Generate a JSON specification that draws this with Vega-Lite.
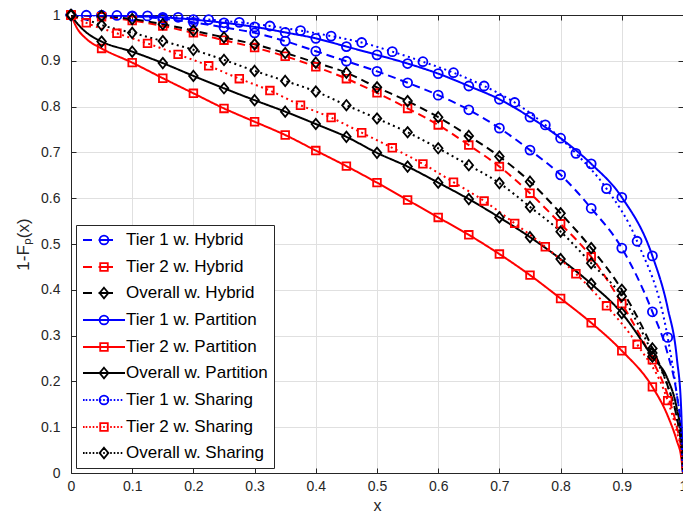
{
  "$schema": "https://vega.github.io/schema/vega-lite/v6.json",
  "width": 612,
  "height": 458,
  "autosize": "none",
  "padding": {"left": 71, "top": 15, "right": 0, "bottom": 39},
  "background": "white",
  "config": {
    "font": "Liberation Sans",
    "view": {"stroke": null},
    "legend": {
      "orient": "bottom-left",
      "offset": 5,
      "fillColor": "white",
      "strokeColor": "#262626",
      "padding": 6,
      "cornerRadius": 0,
      "symbolSize": 256,
      "symbolStrokeWidth": 1.8,
      "labelFontSize": 17,
      "labelColor": "#000000",
      "labelOffset": 26,
      "rowPadding": 9,
      "labelLimit": 300
    }
  },
  "data": {
    "values": [
      {"series": "Tier 1 w. Hybrid", "x": 0, "y": 1},
      {"series": "Tier 1 w. Hybrid", "x": 0.05, "y": 0.999},
      {"series": "Tier 1 w. Hybrid", "x": 0.1, "y": 0.997},
      {"series": "Tier 1 w. Hybrid", "x": 0.15, "y": 0.992},
      {"series": "Tier 1 w. Hybrid", "x": 0.2, "y": 0.984},
      {"series": "Tier 1 w. Hybrid", "x": 0.25, "y": 0.973},
      {"series": "Tier 1 w. Hybrid", "x": 0.3, "y": 0.961},
      {"series": "Tier 1 w. Hybrid", "x": 0.35, "y": 0.943},
      {"series": "Tier 1 w. Hybrid", "x": 0.4, "y": 0.921},
      {"series": "Tier 1 w. Hybrid", "x": 0.45, "y": 0.899},
      {"series": "Tier 1 w. Hybrid", "x": 0.5, "y": 0.877},
      {"series": "Tier 1 w. Hybrid", "x": 0.55, "y": 0.852},
      {"series": "Tier 1 w. Hybrid", "x": 0.6, "y": 0.825},
      {"series": "Tier 1 w. Hybrid", "x": 0.65, "y": 0.793},
      {"series": "Tier 1 w. Hybrid", "x": 0.7, "y": 0.753},
      {"series": "Tier 1 w. Hybrid", "x": 0.75, "y": 0.705},
      {"series": "Tier 1 w. Hybrid", "x": 0.8, "y": 0.651},
      {"series": "Tier 1 w. Hybrid", "x": 0.85, "y": 0.578},
      {"series": "Tier 1 w. Hybrid", "x": 0.9, "y": 0.491},
      {"series": "Tier 1 w. Hybrid", "x": 0.95, "y": 0.352},
      {"series": "Tier 1 w. Hybrid", "x": 0.975, "y": 0.26},
      {"series": "Tier 1 w. Hybrid", "x": 0.99, "y": 0.17},
      {"series": "Tier 1 w. Hybrid", "x": 0.997, "y": 0.09},
      {"series": "Tier 1 w. Hybrid", "x": 1, "y": 0},

      {"series": "Tier 2 w. Hybrid", "x": 0, "y": 1},
      {"series": "Tier 2 w. Hybrid", "x": 0.05, "y": 0.996},
      {"series": "Tier 2 w. Hybrid", "x": 0.1, "y": 0.988},
      {"series": "Tier 2 w. Hybrid", "x": 0.15, "y": 0.976},
      {"series": "Tier 2 w. Hybrid", "x": 0.2, "y": 0.961},
      {"series": "Tier 2 w. Hybrid", "x": 0.25, "y": 0.945},
      {"series": "Tier 2 w. Hybrid", "x": 0.3, "y": 0.929},
      {"series": "Tier 2 w. Hybrid", "x": 0.35, "y": 0.91},
      {"series": "Tier 2 w. Hybrid", "x": 0.4, "y": 0.887},
      {"series": "Tier 2 w. Hybrid", "x": 0.45, "y": 0.861},
      {"series": "Tier 2 w. Hybrid", "x": 0.5, "y": 0.83},
      {"series": "Tier 2 w. Hybrid", "x": 0.55, "y": 0.796},
      {"series": "Tier 2 w. Hybrid", "x": 0.6, "y": 0.76},
      {"series": "Tier 2 w. Hybrid", "x": 0.65, "y": 0.716},
      {"series": "Tier 2 w. Hybrid", "x": 0.7, "y": 0.669},
      {"series": "Tier 2 w. Hybrid", "x": 0.75, "y": 0.611},
      {"series": "Tier 2 w. Hybrid", "x": 0.8, "y": 0.544},
      {"series": "Tier 2 w. Hybrid", "x": 0.85, "y": 0.472},
      {"series": "Tier 2 w. Hybrid", "x": 0.9, "y": 0.37},
      {"series": "Tier 2 w. Hybrid", "x": 0.95, "y": 0.247},
      {"series": "Tier 2 w. Hybrid", "x": 0.975, "y": 0.17},
      {"series": "Tier 2 w. Hybrid", "x": 0.99, "y": 0.1},
      {"series": "Tier 2 w. Hybrid", "x": 0.997, "y": 0.05},
      {"series": "Tier 2 w. Hybrid", "x": 1, "y": 0},

      {"series": "Overall w. Hybrid", "x": 0, "y": 1},
      {"series": "Overall w. Hybrid", "x": 0.05, "y": 0.998},
      {"series": "Overall w. Hybrid", "x": 0.1, "y": 0.991},
      {"series": "Overall w. Hybrid", "x": 0.15, "y": 0.98},
      {"series": "Overall w. Hybrid", "x": 0.2, "y": 0.966},
      {"series": "Overall w. Hybrid", "x": 0.25, "y": 0.951},
      {"series": "Overall w. Hybrid", "x": 0.3, "y": 0.936},
      {"series": "Overall w. Hybrid", "x": 0.35, "y": 0.917},
      {"series": "Overall w. Hybrid", "x": 0.4, "y": 0.896},
      {"series": "Overall w. Hybrid", "x": 0.45, "y": 0.874},
      {"series": "Overall w. Hybrid", "x": 0.5, "y": 0.842},
      {"series": "Overall w. Hybrid", "x": 0.55, "y": 0.812},
      {"series": "Overall w. Hybrid", "x": 0.6, "y": 0.777},
      {"series": "Overall w. Hybrid", "x": 0.65, "y": 0.736},
      {"series": "Overall w. Hybrid", "x": 0.7, "y": 0.691},
      {"series": "Overall w. Hybrid", "x": 0.75, "y": 0.636},
      {"series": "Overall w. Hybrid", "x": 0.8, "y": 0.567},
      {"series": "Overall w. Hybrid", "x": 0.85, "y": 0.491},
      {"series": "Overall w. Hybrid", "x": 0.9, "y": 0.4},
      {"series": "Overall w. Hybrid", "x": 0.95, "y": 0.272},
      {"series": "Overall w. Hybrid", "x": 0.975, "y": 0.19},
      {"series": "Overall w. Hybrid", "x": 0.99, "y": 0.12},
      {"series": "Overall w. Hybrid", "x": 0.997, "y": 0.06},
      {"series": "Overall w. Hybrid", "x": 1, "y": 0},

      {"series": "Tier 1 w. Partition", "x": 0, "y": 1},
      {"series": "Tier 1 w. Partition", "x": 0.05, "y": 0.999},
      {"series": "Tier 1 w. Partition", "x": 0.1, "y": 0.998},
      {"series": "Tier 1 w. Partition", "x": 0.15, "y": 0.995},
      {"series": "Tier 1 w. Partition", "x": 0.2, "y": 0.99},
      {"series": "Tier 1 w. Partition", "x": 0.25, "y": 0.983},
      {"series": "Tier 1 w. Partition", "x": 0.3, "y": 0.974},
      {"series": "Tier 1 w. Partition", "x": 0.35, "y": 0.962},
      {"series": "Tier 1 w. Partition", "x": 0.4, "y": 0.949},
      {"series": "Tier 1 w. Partition", "x": 0.45, "y": 0.931},
      {"series": "Tier 1 w. Partition", "x": 0.5, "y": 0.913},
      {"series": "Tier 1 w. Partition", "x": 0.55, "y": 0.894},
      {"series": "Tier 1 w. Partition", "x": 0.6, "y": 0.872},
      {"series": "Tier 1 w. Partition", "x": 0.65, "y": 0.845},
      {"series": "Tier 1 w. Partition", "x": 0.7, "y": 0.816},
      {"series": "Tier 1 w. Partition", "x": 0.75, "y": 0.777},
      {"series": "Tier 1 w. Partition", "x": 0.8, "y": 0.731},
      {"series": "Tier 1 w. Partition", "x": 0.85, "y": 0.675},
      {"series": "Tier 1 w. Partition", "x": 0.9, "y": 0.602},
      {"series": "Tier 1 w. Partition", "x": 0.95, "y": 0.474},
      {"series": "Tier 1 w. Partition", "x": 0.975, "y": 0.36},
      {"series": "Tier 1 w. Partition", "x": 0.99, "y": 0.25},
      {"series": "Tier 1 w. Partition", "x": 0.997, "y": 0.14},
      {"series": "Tier 1 w. Partition", "x": 1, "y": 0},

      {"series": "Tier 2 w. Partition", "x": 0, "y": 1},
      {"series": "Tier 2 w. Partition", "x": 0.01, "y": 0.971},
      {"series": "Tier 2 w. Partition", "x": 0.025, "y": 0.948},
      {"series": "Tier 2 w. Partition", "x": 0.05, "y": 0.927},
      {"series": "Tier 2 w. Partition", "x": 0.1, "y": 0.896},
      {"series": "Tier 2 w. Partition", "x": 0.15, "y": 0.862},
      {"series": "Tier 2 w. Partition", "x": 0.2, "y": 0.829},
      {"series": "Tier 2 w. Partition", "x": 0.25, "y": 0.796},
      {"series": "Tier 2 w. Partition", "x": 0.3, "y": 0.767},
      {"series": "Tier 2 w. Partition", "x": 0.35, "y": 0.738},
      {"series": "Tier 2 w. Partition", "x": 0.4, "y": 0.704},
      {"series": "Tier 2 w. Partition", "x": 0.45, "y": 0.67},
      {"series": "Tier 2 w. Partition", "x": 0.5, "y": 0.634},
      {"series": "Tier 2 w. Partition", "x": 0.55, "y": 0.596},
      {"series": "Tier 2 w. Partition", "x": 0.6, "y": 0.558},
      {"series": "Tier 2 w. Partition", "x": 0.65, "y": 0.52},
      {"series": "Tier 2 w. Partition", "x": 0.7, "y": 0.478},
      {"series": "Tier 2 w. Partition", "x": 0.75, "y": 0.432},
      {"series": "Tier 2 w. Partition", "x": 0.8, "y": 0.381},
      {"series": "Tier 2 w. Partition", "x": 0.85, "y": 0.328},
      {"series": "Tier 2 w. Partition", "x": 0.9, "y": 0.267},
      {"series": "Tier 2 w. Partition", "x": 0.95, "y": 0.188},
      {"series": "Tier 2 w. Partition", "x": 0.975, "y": 0.125},
      {"series": "Tier 2 w. Partition", "x": 0.99, "y": 0.07},
      {"series": "Tier 2 w. Partition", "x": 0.997, "y": 0.035},
      {"series": "Tier 2 w. Partition", "x": 1, "y": 0},

      {"series": "Overall w. Partition", "x": 0, "y": 1},
      {"series": "Overall w. Partition", "x": 0.01, "y": 0.982},
      {"series": "Overall w. Partition", "x": 0.025, "y": 0.962},
      {"series": "Overall w. Partition", "x": 0.05, "y": 0.942},
      {"series": "Overall w. Partition", "x": 0.1, "y": 0.92},
      {"series": "Overall w. Partition", "x": 0.15, "y": 0.895},
      {"series": "Overall w. Partition", "x": 0.2, "y": 0.867},
      {"series": "Overall w. Partition", "x": 0.25, "y": 0.84},
      {"series": "Overall w. Partition", "x": 0.3, "y": 0.814},
      {"series": "Overall w. Partition", "x": 0.35, "y": 0.789},
      {"series": "Overall w. Partition", "x": 0.4, "y": 0.762},
      {"series": "Overall w. Partition", "x": 0.45, "y": 0.734},
      {"series": "Overall w. Partition", "x": 0.5, "y": 0.699},
      {"series": "Overall w. Partition", "x": 0.55, "y": 0.669},
      {"series": "Overall w. Partition", "x": 0.6, "y": 0.634},
      {"series": "Overall w. Partition", "x": 0.65, "y": 0.598},
      {"series": "Overall w. Partition", "x": 0.7, "y": 0.558},
      {"series": "Overall w. Partition", "x": 0.75, "y": 0.515},
      {"series": "Overall w. Partition", "x": 0.8, "y": 0.467},
      {"series": "Overall w. Partition", "x": 0.85, "y": 0.413},
      {"series": "Overall w. Partition", "x": 0.9, "y": 0.349},
      {"series": "Overall w. Partition", "x": 0.95, "y": 0.254},
      {"series": "Overall w. Partition", "x": 0.975, "y": 0.205},
      {"series": "Overall w. Partition", "x": 0.99, "y": 0.14},
      {"series": "Overall w. Partition", "x": 0.997, "y": 0.08},
      {"series": "Overall w. Partition", "x": 1, "y": 0},

      {"series": "Tier 1 w. Sharing", "x": 0, "y": 1},
      {"series": "Tier 1 w. Sharing", "x": 0.025, "y": 0.9995},
      {"series": "Tier 1 w. Sharing", "x": 0.075, "y": 0.999},
      {"series": "Tier 1 w. Sharing", "x": 0.125, "y": 0.998},
      {"series": "Tier 1 w. Sharing", "x": 0.175, "y": 0.995},
      {"series": "Tier 1 w. Sharing", "x": 0.225, "y": 0.99},
      {"series": "Tier 1 w. Sharing", "x": 0.275, "y": 0.984},
      {"series": "Tier 1 w. Sharing", "x": 0.325, "y": 0.976},
      {"series": "Tier 1 w. Sharing", "x": 0.375, "y": 0.966},
      {"series": "Tier 1 w. Sharing", "x": 0.425, "y": 0.954},
      {"series": "Tier 1 w. Sharing", "x": 0.475, "y": 0.94},
      {"series": "Tier 1 w. Sharing", "x": 0.525, "y": 0.92},
      {"series": "Tier 1 w. Sharing", "x": 0.575, "y": 0.898},
      {"series": "Tier 1 w. Sharing", "x": 0.625, "y": 0.874},
      {"series": "Tier 1 w. Sharing", "x": 0.675, "y": 0.845},
      {"series": "Tier 1 w. Sharing", "x": 0.725, "y": 0.809},
      {"series": "Tier 1 w. Sharing", "x": 0.775, "y": 0.76},
      {"series": "Tier 1 w. Sharing", "x": 0.825, "y": 0.698},
      {"series": "Tier 1 w. Sharing", "x": 0.875, "y": 0.621},
      {"series": "Tier 1 w. Sharing", "x": 0.925, "y": 0.506},
      {"series": "Tier 1 w. Sharing", "x": 0.975, "y": 0.296},
      {"series": "Tier 1 w. Sharing", "x": 0.99, "y": 0.17},
      {"series": "Tier 1 w. Sharing", "x": 0.997, "y": 0.09},
      {"series": "Tier 1 w. Sharing", "x": 1, "y": 0},

      {"series": "Tier 2 w. Sharing", "x": 0, "y": 1},
      {"series": "Tier 2 w. Sharing", "x": 0.025, "y": 0.983},
      {"series": "Tier 2 w. Sharing", "x": 0.075, "y": 0.96},
      {"series": "Tier 2 w. Sharing", "x": 0.125, "y": 0.938},
      {"series": "Tier 2 w. Sharing", "x": 0.175, "y": 0.914},
      {"series": "Tier 2 w. Sharing", "x": 0.225, "y": 0.889},
      {"series": "Tier 2 w. Sharing", "x": 0.275, "y": 0.861},
      {"series": "Tier 2 w. Sharing", "x": 0.325, "y": 0.835},
      {"series": "Tier 2 w. Sharing", "x": 0.375, "y": 0.803},
      {"series": "Tier 2 w. Sharing", "x": 0.425, "y": 0.776},
      {"series": "Tier 2 w. Sharing", "x": 0.475, "y": 0.743},
      {"series": "Tier 2 w. Sharing", "x": 0.525, "y": 0.71},
      {"series": "Tier 2 w. Sharing", "x": 0.575, "y": 0.675},
      {"series": "Tier 2 w. Sharing", "x": 0.625, "y": 0.635},
      {"series": "Tier 2 w. Sharing", "x": 0.675, "y": 0.594},
      {"series": "Tier 2 w. Sharing", "x": 0.725, "y": 0.545},
      {"series": "Tier 2 w. Sharing", "x": 0.775, "y": 0.494},
      {"series": "Tier 2 w. Sharing", "x": 0.825, "y": 0.435},
      {"series": "Tier 2 w. Sharing", "x": 0.875, "y": 0.365},
      {"series": "Tier 2 w. Sharing", "x": 0.925, "y": 0.281},
      {"series": "Tier 2 w. Sharing", "x": 0.975, "y": 0.158},
      {"series": "Tier 2 w. Sharing", "x": 0.99, "y": 0.09},
      {"series": "Tier 2 w. Sharing", "x": 0.997, "y": 0.045},
      {"series": "Tier 2 w. Sharing", "x": 1, "y": 0},

      {"series": "Overall w. Sharing", "x": 0, "y": 1},
      {"series": "Overall w. Sharing", "x": 0.025, "y": 0.99},
      {"series": "Overall w. Sharing", "x": 0.05, "y": 0.978},
      {"series": "Overall w. Sharing", "x": 0.1, "y": 0.961},
      {"series": "Overall w. Sharing", "x": 0.15, "y": 0.943},
      {"series": "Overall w. Sharing", "x": 0.2, "y": 0.924},
      {"series": "Overall w. Sharing", "x": 0.25, "y": 0.902},
      {"series": "Overall w. Sharing", "x": 0.3, "y": 0.878},
      {"series": "Overall w. Sharing", "x": 0.35, "y": 0.856},
      {"series": "Overall w. Sharing", "x": 0.4, "y": 0.833},
      {"series": "Overall w. Sharing", "x": 0.45, "y": 0.803},
      {"series": "Overall w. Sharing", "x": 0.5, "y": 0.774},
      {"series": "Overall w. Sharing", "x": 0.55, "y": 0.744},
      {"series": "Overall w. Sharing", "x": 0.6, "y": 0.709},
      {"series": "Overall w. Sharing", "x": 0.65, "y": 0.672},
      {"series": "Overall w. Sharing", "x": 0.7, "y": 0.633},
      {"series": "Overall w. Sharing", "x": 0.75, "y": 0.581},
      {"series": "Overall w. Sharing", "x": 0.8, "y": 0.527},
      {"series": "Overall w. Sharing", "x": 0.85, "y": 0.458},
      {"series": "Overall w. Sharing", "x": 0.9, "y": 0.386},
      {"series": "Overall w. Sharing", "x": 0.95, "y": 0.262},
      {"series": "Overall w. Sharing", "x": 0.975, "y": 0.19},
      {"series": "Overall w. Sharing", "x": 0.99, "y": 0.12},
      {"series": "Overall w. Sharing", "x": 0.997, "y": 0.06},
      {"series": "Overall w. Sharing", "x": 1, "y": 0}
    ]
  },
  "layer": [
    {
      "mark": {"type": "line", "strokeWidth": 2, "interpolate": "monotone", "strokeCap": "butt", "clip": true},
      "encoding": {
        "x": {
          "field": "x", "type": "quantitative",
          "scale": {"domain": [0, 1], "nice": false},
          "axis": {
            "orient": "bottom",
            "values": [0, 0.1, 0.2, 0.3, 0.4, 0.5, 0.6, 0.7, 0.8, 0.9, 1],
            "format": "~g",
            "grid": true, "gridColor": "#e0e0e0", "gridWidth": 1,
            "ticks": true, "tickSize": -5, "tickColor": "#262626", "tickWidth": 1,
            "domainColor": "#262626", "domainWidth": 1,
            "labelColor": "#262626", "labelFontSize": 14, "labelPadding": 11, "labelFlush": false,
            "title": "x", "titleFontSize": 16, "titleFontWeight": "normal", "titleColor": "#262626", "titlePadding": 4
          }
        },
        "y": {
          "field": "y", "type": "quantitative",
          "scale": {"domain": [0, 1], "nice": false},
          "axis": {
            "orient": "left",
            "values": [0, 0.1, 0.2, 0.3, 0.4, 0.5, 0.6, 0.7, 0.8, 0.9, 1],
            "format": "~g",
            "grid": true, "gridColor": "#e0e0e0", "gridWidth": 1,
            "ticks": true, "tickSize": -5, "tickColor": "#262626", "tickWidth": 1,
            "domainColor": "#262626", "domainWidth": 1,
            "labelColor": "#262626", "labelFontSize": 14, "labelPadding": 16, "labelFlush": false,
            "title": "1-Fₚ(x)", "titleFontSize": 17, "titleFontWeight": "normal", "titleColor": "#262626", "titlePadding": 8
          }
        },
        "color": {
          "field": "series", "type": "nominal", "title": null,
          "scale": {
            "domain": ["Tier 1 w. Hybrid", "Tier 2 w. Hybrid", "Overall w. Hybrid", "Tier 1 w. Partition", "Tier 2 w. Partition", "Overall w. Partition", "Tier 1 w. Sharing", "Tier 2 w. Sharing", "Overall w. Sharing"],
            "range": ["#0000ff", "#ff0000", "#000000", "#0000ff", "#ff0000", "#000000", "#0000ff", "#ff0000", "#000000"]
          }
        },
        "strokeDash": {
          "field": "series", "type": "nominal", "title": null,
          "scale": {
            "domain": ["Overall w. Sharing", "Tier 2 w. Sharing", "Tier 1 w. Sharing", "Overall w. Partition", "Tier 2 w. Partition", "Tier 1 w. Partition", "Overall w. Hybrid", "Tier 2 w. Hybrid", "Tier 1 w. Hybrid"],
            "range": [[2, 3.5], [2, 3.5], [2, 3.5], [1, 0], [1, 0], [1, 0], [8, 5], [8, 5], [8, 5]]
          },
          "legend": null
        }
      }
    },
    {
      "transform": [
        {"filter": "indexof(datum.series,'Tier 1') >= 0 && datum.x <= 0.975 && (indexof(datum.series,'Sharing') >= 0 || abs(datum.x * 20 - round(datum.x * 20)) < 0.001)"}
      ],
      "mark": {"type": "point", "shape": "circle", "filled": false, "size": 81, "strokeWidth": 1.8, "opacity": 1},
      "encoding": {
        "x": {
          "field": "x", "type": "quantitative",
          "axis": {
            "orient": "top",
            "values": [0, 0.1, 0.2, 0.3, 0.4, 0.5, 0.6, 0.7, 0.8, 0.9, 1],
            "labels": false, "grid": false, "title": null,
            "ticks": true, "tickSize": -5, "tickColor": "#262626",
            "domainColor": "#262626", "domainWidth": 1
          }
        },
        "y": {
          "field": "y", "type": "quantitative",
          "axis": {
            "orient": "right",
            "values": [0, 0.1, 0.2, 0.3, 0.4, 0.5, 0.6, 0.7, 0.8, 0.9, 1],
            "labels": false, "grid": false, "title": null,
            "ticks": true, "tickSize": -5, "tickColor": "#262626",
            "domainColor": "#262626", "domainWidth": 1
          }
        },
        "color": {"field": "series", "type": "nominal", "title": null}
      }
    },
    {
      "transform": [
        {"filter": "indexof(datum.series,'Tier 2') >= 0 && datum.x <= 0.975 && (indexof(datum.series,'Sharing') >= 0 || abs(datum.x * 20 - round(datum.x * 20)) < 0.001)"}
      ],
      "mark": {"type": "point", "shape": "M-0.85,-0.85H0.85V0.85H-0.85Z", "filled": false, "size": 81, "strokeWidth": 1.8, "opacity": 1},
      "encoding": {
        "x": {"field": "x", "type": "quantitative", "axis": null},
        "y": {"field": "y", "type": "quantitative", "axis": null},
        "color": {"field": "series", "type": "nominal", "title": null}
      }
    },
    {
      "transform": [
        {"filter": "indexof(datum.series,'Overall') >= 0 && datum.x <= 0.95 && abs(datum.x * 20 - round(datum.x * 20)) < 0.001"}
      ],
      "mark": {"type": "point", "shape": "M0,-1.15L0.95,0L0,1.15L-0.95,0Z", "filled": false, "size": 81, "strokeWidth": 1.8, "opacity": 1},
      "encoding": {
        "x": {"field": "x", "type": "quantitative", "axis": null},
        "y": {"field": "y", "type": "quantitative", "axis": null},
        "color": {"field": "series", "type": "nominal", "title": null}
      }
    },
    {
      "transform": [{"filter": "false"}],
      "mark": {"type": "point", "filled": false, "strokeWidth": 1.8, "opacity": 1},
      "encoding": {
        "x": {"field": "x", "type": "quantitative", "axis": null},
        "y": {"field": "y", "type": "quantitative", "axis": null},
        "color": {"field": "series", "type": "nominal", "title": null},
        "shape": {
          "field": "series", "type": "nominal", "title": null,
          "scale": {
            "domain": ["Tier 1 w. Hybrid", "Tier 2 w. Hybrid", "Overall w. Hybrid", "Tier 1 w. Partition", "Tier 2 w. Partition", "Overall w. Partition", "Tier 1 w. Sharing", "Tier 2 w. Sharing", "Overall w. Sharing"],
            "range": [
              "M-1,0H0.125M0.94,0H2.75M2.175,0A0.55,0.55,0,1,1,1.075,0A0.55,0.55,0,1,1,2.175,0Z",
              "M-1,0H0.125M0.94,0H2.75M1.15,-0.475H2.1V0.475H1.15Z",
              "M-1,0H0.125M0.94,0H2.75M1.625,-0.66L2.175,0L1.625,0.66L1.075,0Z",
              "M-1,0H4.25M2.175,0A0.55,0.55,0,1,1,1.075,0A0.55,0.55,0,1,1,2.175,0Z",
              "M-1,0H4.25M1.15,-0.475H2.1V0.475H1.15Z",
              "M-1,0H4.25M1.625,-0.66L2.175,0L1.625,0.66L1.075,0Z",
              "M-1,0h0.2M-0.6625,0h0.2M-0.225,0h0.2M0.2125,0h0.2M0.65,0h0.2M1.0875,0h0.2M1.525,0h0.2M1.9625,0h0.2M2.4,0h0.2M2.8375,0h0.2M3.275,0h0.2M3.7125,0h0.2M2.175,0A0.55,0.55,0,1,1,1.075,0A0.55,0.55,0,1,1,2.175,0Z",
              "M-1,0h0.2M-0.6625,0h0.2M-0.225,0h0.2M0.2125,0h0.2M0.65,0h0.2M1.0875,0h0.2M1.525,0h0.2M1.9625,0h0.2M2.4,0h0.2M2.8375,0h0.2M3.275,0h0.2M3.7125,0h0.2M1.15,-0.475H2.1V0.475H1.15Z",
              "M-1,0h0.2M-0.6625,0h0.2M-0.225,0h0.2M0.2125,0h0.2M0.65,0h0.2M1.0875,0h0.2M1.525,0h0.2M1.9625,0h0.2M2.4,0h0.2M2.8375,0h0.2M3.275,0h0.2M3.7125,0h0.2M1.625,-0.66L2.175,0L1.625,0.66L1.075,0Z"
            ]
          }
        }
      }
    }
  ],
  "resolve": {"axis": {"x": "independent", "y": "independent"}}
}
